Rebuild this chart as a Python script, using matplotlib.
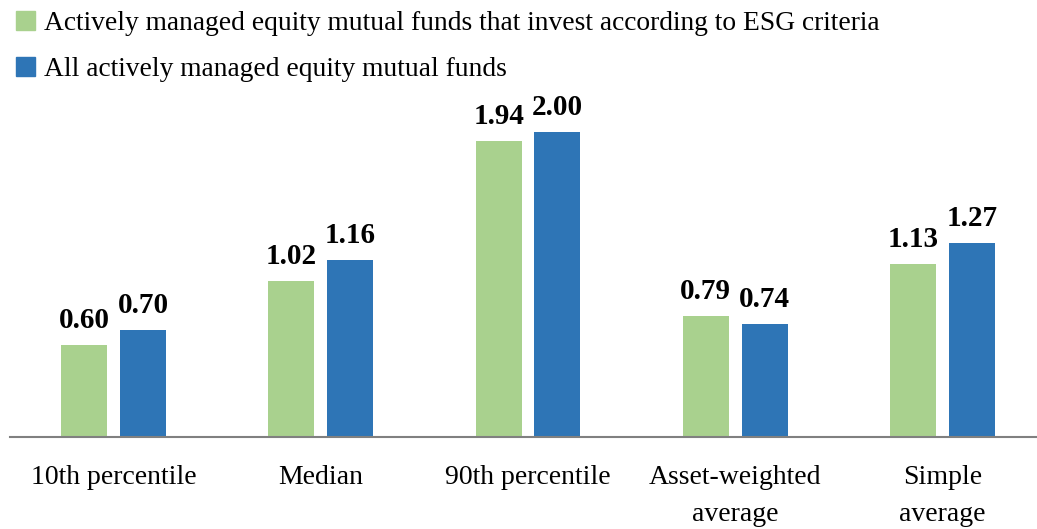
import matplotlib.pyplot as plt
import numpy as np
from matplotlib.patches import Patch

categories = ['10th percentile', 'Median', '90th percentile', 'Asset-weighted\naverage', 'Simple\naverage']
esg_funds = [0.60, 1.02, 1.94, 0.79, 1.13]
all_funds = [0.70, 1.16, 2.00, 0.74, 1.27]
series_names = ['Actively managed equity mutual funds that invest according to ESG criteria',
                'All actively managed equity mutual funds']
green = '#A9D18E'
blue = '#2E75B6'

plt.rcParams['font.family'] = ['Liberation Serif', 'DejaVu Serif']

fig = plt.figure(figsize=(10.37, 5.29), dpi=100)
# axes runs a little past the right edge, as in the original
ax = fig.add_axes([10 / 1037, 92 / 529, 1036 / 1037, 400 / 529])

x = np.arange(len(categories))
w = 0.222
off = 0.142
b1 = ax.bar(x - off, esg_funds, w, color=green)
b2 = ax.bar(x + off, all_funds, w, color=blue)

for bars, vals in [(b1, esg_funds), (b2, all_funds)]:
    for b, v in zip(bars, vals):
        ax.annotate(f'{v:.2f}', (b.get_x() + b.get_width() / 2, v),
                    xytext=(0, 8), textcoords='offset points',
                    ha='center', va='bottom', fontsize=21, fontweight='bold')

ax.set_xlim(-0.5, len(categories) - 0.5)
ax.set_ylim(0, 2.62)
ax.set_xticks(x)
ax.set_xticklabels(categories, fontsize=20, linespacing=1.65)
ax.tick_params(axis='x', length=0, pad=20)
ax.set_yticks([])
for s in ['top', 'right', 'left']:
    ax.spines[s].set_visible(False)
ax.spines['bottom'].set_color('#808080')
ax.spines['bottom'].set_linewidth(1.5)

handles = [Patch(color=green), Patch(color=blue)]
fig.legend(handles, series_names, loc='upper left', bbox_to_anchor=(0.005, 1.0),
           frameon=False, fontsize=19.8, handlelength=0.7, handleheight=0.7,
           handletextpad=0.3, labelspacing=0.75, borderaxespad=0)

fig.savefig('out.png', dpi=100)
